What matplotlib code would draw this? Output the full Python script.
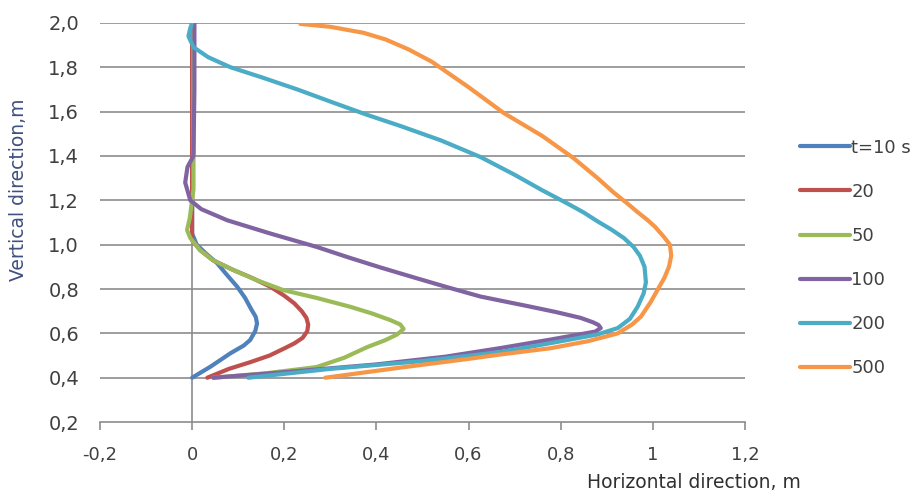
import matplotlib.pyplot as plt

plt.rcParams['font.family'] = ['DejaVu Sans']

# data (x = horizontal, y = vertical), in metres
t10_x = [0.0, 0.04, 0.083, 0.112, 0.126, 0.137, 0.141, 0.138, 0.128, 0.115, 0.098, 0.075, 0.054, 0.03, 0.01, 0.0, 0.0, 0.0]
t10_y = [0.4, 0.45, 0.51, 0.545, 0.57, 0.61, 0.645, 0.675, 0.71, 0.76, 0.81, 0.865, 0.917, 0.96, 1.0, 1.05, 1.5, 2.0]

t20_x = [0.033, 0.08, 0.126, 0.168, 0.198, 0.222, 0.24, 0.25, 0.252, 0.248, 0.238, 0.222, 0.2, 0.17, 0.13, 0.089, 0.045, 0.017, 0.0, 0.0, 0.0]
t20_y = [0.4, 0.44, 0.47, 0.5, 0.53, 0.555, 0.58, 0.61, 0.64, 0.67, 0.7, 0.735, 0.77, 0.81, 0.85, 0.886, 0.93, 0.976, 1.02, 1.5, 2.0]

t50_x = [0.046, 0.16, 0.27, 0.33, 0.38, 0.42, 0.445, 0.459, 0.452, 0.43, 0.39, 0.343, 0.27, 0.198, 0.14, 0.089, 0.045, 0.017, -0.004, -0.011, -0.005, 0.003, 0.003, 0.003]
t50_y = [0.4, 0.42, 0.448, 0.49, 0.538, 0.57, 0.595, 0.62, 0.64, 0.66, 0.69, 0.72, 0.76, 0.795, 0.84, 0.886, 0.93, 0.976, 1.03, 1.066, 1.12, 1.25, 1.6, 2.0]

t100_x = [0.046, 0.2, 0.4, 0.55, 0.67, 0.778, 0.84, 0.875, 0.887, 0.882, 0.87, 0.843, 0.79, 0.735, 0.626, 0.554, 0.48, 0.409, 0.34, 0.27, 0.17, 0.076, 0.02, -0.004, -0.015, -0.01, 0.003, 0.005, 0.005]
t100_y = [0.4, 0.425, 0.46, 0.495, 0.534, 0.572, 0.595, 0.608, 0.624, 0.638, 0.65, 0.67, 0.696, 0.72, 0.766, 0.808, 0.853, 0.897, 0.942, 0.99, 1.05, 1.11, 1.16, 1.2, 1.28, 1.35, 1.4, 1.7, 2.0]

t200_x = [0.122, 0.3, 0.5, 0.67, 0.778, 0.88, 0.924, 0.95, 0.967, 0.98, 0.985, 0.982, 0.972, 0.958, 0.937, 0.91, 0.88, 0.85, 0.815, 0.76, 0.7, 0.626, 0.54, 0.452, 0.38, 0.3, 0.228, 0.15, 0.083, 0.035, 0.003, -0.008, -0.004, 0.0]
t200_y = [0.4, 0.44, 0.475, 0.516, 0.556, 0.595, 0.624, 0.665, 0.72, 0.78, 0.83, 0.9, 0.95, 0.99, 1.03, 1.068, 1.105, 1.145, 1.185, 1.245, 1.315, 1.395, 1.47, 1.535, 1.585, 1.645, 1.7, 1.755, 1.8, 1.845, 1.89, 1.94, 1.975, 2.0]

t500_x = [0.289, 0.45, 0.6, 0.67, 0.778, 0.86, 0.924, 0.955, 0.974, 0.995, 1.01, 1.025, 1.035, 1.04, 1.037, 1.024, 1.005, 0.989, 0.965, 0.945, 0.915, 0.88, 0.828, 0.76, 0.676, 0.6, 0.52, 0.47, 0.42, 0.372, 0.3, 0.235]
t500_y = [0.4, 0.445, 0.485, 0.505, 0.533, 0.565, 0.6, 0.64, 0.675, 0.74, 0.795, 0.85, 0.9, 0.95, 1.0, 1.035, 1.08, 1.11, 1.15, 1.185, 1.235, 1.3, 1.39, 1.49, 1.594, 1.71, 1.825, 1.88, 1.925, 1.955, 1.982, 1.995]

series = [
    ('t=10 s', t10_x, t10_y, '#4F81BD'),
    ('20', t20_x, t20_y, '#C0504D'),
    ('50', t50_x, t50_y, '#9BBB59'),
    ('100', t100_x, t100_y, '#8064A2'),
    ('200', t200_x, t200_y, '#4BACC6'),
    ('500', t500_x, t500_y, '#F79646'),
]

x_ticks = [-0.2, 0, 0.2, 0.4, 0.6, 0.8, 1.0, 1.2]
x_labels = ['-0,2', '0', '0,2', '0,4', '0,6', '0,8', '1', '1,2']
y_ticks = [0.2, 0.4, 0.6, 0.8, 1.0, 1.2, 1.4, 1.6, 1.8, 2.0]
y_labels = ['0,2', '0,4', '0,6', '0,8', '1,0', '1,2', '1,4', '1,6', '1,8', '2,0']

fig = plt.figure(figsize=(9.17, 4.96), dpi=100)
ax = fig.add_axes([0.109, 0.149, 0.7034, 0.805])

grid_col = '#8C8C8C'
for yv in y_ticks[1:]:
    ax.axhline(yv, color=grid_col, linewidth=1.2, zorder=1)
# vertical axis crosses at x = 0
ax.plot([0, 0], [0.2, 2.0], color=grid_col, linewidth=1.2, zorder=1)

for name, xs, ys, col in series:
    ax.plot(xs, ys, color=col, linewidth=3, label=name, zorder=3,
            solid_capstyle='round', solid_joinstyle='round')

ax.set_xlim(-0.2, 1.2)
ax.set_ylim(0.2, 2.0)
ax.set_xticks(x_ticks)
ax.set_xticklabels(x_labels, fontsize=13, color='#404040')
ax.set_yticks(y_ticks)
ax.set_yticklabels(y_labels, fontsize=14, color='#404040')
ax.tick_params(axis='y', length=0, pad=15)
ax.tick_params(axis='x', length=6, color=grid_col, width=1.2, pad=11)

for s in ['top', 'right', 'left']:
    ax.spines[s].set_visible(False)
ax.spines['bottom'].set_color(grid_col)
ax.spines['bottom'].set_linewidth(1.2)

fig.text(0.02, 0.617, 'Vertical direction,m', rotation=90, ha='center', va='center',
         fontsize=13.5, color='#3F4F7F')
fig.text(0.873, 0.028, 'Horizontal direction, m', ha='right', va='center',
         fontsize=13.5, color='#303030')

leg = ax.legend(loc='center left', bbox_to_anchor=(1.074, 0.411), frameon=False,
                fontsize=13, handlelength=2.8, handletextpad=0.05, labelspacing=1.45,
                borderaxespad=0)
for t in leg.get_texts():
    t.set_color('#404040')

fig.savefig('out.png', dpi=100)
